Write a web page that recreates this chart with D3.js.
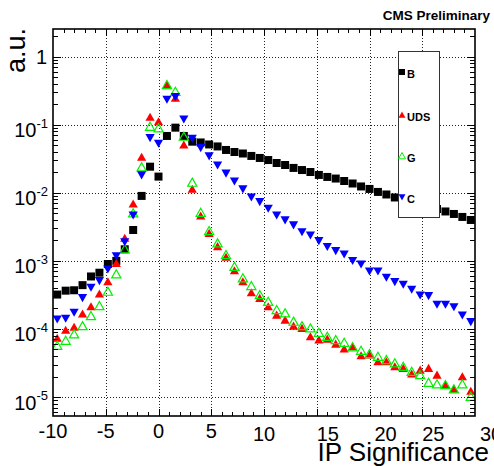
<!DOCTYPE html>
<html>
<head>
<meta charset="utf-8">
<script src="https://cdn.jsdelivr.net/npm/d3@7"></script>
<style>
  body { margin: 0; background: #fff; }
  svg { display: block; font-family: "Liberation Sans", Arial, Helvetica, sans-serif; }
</style>
</head>
<body>
<div id="chart"></div>
<script>
// bin centres of the IP significance histogram
var ipBins = [-9.6, -8.8, -8.0, -7.2, -6.4, -5.6, -4.8, -4.0, -3.2, -2.4,
  -1.6, -0.8, 0.0, 0.8, 1.6, 2.4, 3.2, 4.0, 4.8, 5.6,
  6.4, 7.2, 8.0, 8.8, 9.6, 10.4, 11.2, 12.0, 12.8, 13.6,
  14.4, 15.2, 16.0, 16.8, 17.6, 18.4, 19.2, 20.0, 20.8, 21.6,
  22.4, 23.2, 24.0, 24.8, 25.6, 26.4, 27.2, 28.0, 28.8, 29.6];

// B jets
var bValues = [3.2e-4, 3.65e-4, 3.7e-4, 4.4e-4, 5.9e-4, 6.7e-4, 9.0e-4, 1.0e-3, 1.48e-3, 2.84e-3,
  9.0e-3, 0.0242, 0.0173, 0.0684, 0.0906, 0.0684, 0.0564, 0.0549, 0.0513, 0.048,
  0.0426, 0.0398, 0.0378, 0.0348, 0.0325, 0.0303, 0.0274, 0.0256, 0.0232, 0.0216,
  0.0202, 0.0183, 0.0171, 0.0162, 0.0149, 0.0137, 0.0124, 0.0114, 0.0103, 0.00945,
  0.00854, 0.00785, 0.00733, 0.00685, 0.0063, 0.00578, 0.00532, 0.00489, 0.00442, 0.00399];

// light (UDS) jets
var udsValues = [7.3e-5, 9.6e-5, 1.06e-4, 1.66e-4, 2.12e-4, 3.26e-4, 4.94e-4, 9.2e-4, 2.15e-3, 6.85e-3,
  0.0333, 0.1288, 0.111, 0.384, 0.245, 0.0504, 0.01127, 0.00456, 0.00254, 0.00162,
  0.00113, 7.18e-4, 4.94e-4, 3.41e-4, 2.82e-4, 2.12e-4, 1.60e-4, 1.35e-4, 1.10e-4, 1.02e-4,
  7.7e-5, 6.9e-5, 7.1e-5, 6.0e-5, 5.07e-5, 5.48e-5, 4.04e-5, 4.14e-5, 3.3e-5, 3.3e-5,
  2.79e-5, 2.64e-5, 2.18e-5, 2.49e-5, 2.64e-5, 2.10e-5, 1.50e-5, 1.30e-5, 1.99e-5, 1.22e-5];

// gluon jets
var gValues = [5.67e-5, 6.72e-5, 8.34e-5, 1.10e-4, 1.55e-4, 2.17e-4, 3.53e-4, 6.35e-4, 1.48e-3, 5.0e-3,
  0.0237, 0.0936, 0.0887, 0.384, 0.306, 0.0668, 0.0141, 0.0051, 0.00275, 0.00181,
  0.00122, 8.2e-4, 5.55e-4, 4.28e-4, 3.15e-4, 2.51e-4, 1.90e-4, 1.70e-4, 1.28e-4, 1.10e-4,
  1.02e-4, 8.8e-5, 7.69e-5, 6.87e-5, 6.28e-5, 5.37e-5, 4.79e-5, 4.28e-5, 3.91e-5, 3.50e-5,
  3.13e-5, 2.79e-5, 2.35e-5, 2.10e-5, 1.62e-5, 1.54e-5, 1.50e-5, 1.30e-5, 1.54e-5, 1.01e-5];

// charm jets
var cValues = [1.40e-4, 1.43e-4, 1.76e-4, 2.88e-4, 4.09e-4, 5.12e-4, 7.6e-4, 1.19e-3, 1.91e-3, 4.72e-3,
  0.0183, 0.0646, 0.0534, 0.237, 0.258, 0.1215, 0.0632, 0.046, 0.0348, 0.0256,
  0.0194, 0.0149, 0.0114, 0.00868, 0.00741, 0.00593, 0.00472, 0.00399, 0.00337, 0.00268,
  0.0024, 0.00198, 0.00162, 0.00141, 0.00126, 0.00101, 9.0e-4, 7.1e-4, 7.1e-4, 5.74e-4,
  4.94e-4, 4.53e-4, 3.82e-4, 3.15e-4, 3.08e-4, 2.30e-4, 2.30e-4, 2.12e-4, 1.60e-4, 1.28e-4];

var xTickLabels = [-10, -5, 0, 5, 10, 15, 20, 25, 30];
var yTickExps = [0, -1, -2, -3, -4, -5];
var legendNames = ["B", "UDS", "G", "C"];

var width = 494, height = 466;
var padL = 53, padR = 475, padT = 29, padB = 416;

var svg = d3.select("#chart").append("svg")
  .attr("width", width)
  .attr("height", height);

var x = d3.scaleLinear().domain([-10, 30]).range([padL, padR]);
var y = d3.scaleLog().domain([5.26e-6, 2.55]).range([padB, padT]);

// dotted grid
var grid = svg.append("g").attr("stroke", "#222").attr("stroke-width", 1)
  .attr("stroke-dasharray", "1,2").attr("shape-rendering", "crispEdges");
grid.selectAll(".gx").data(xTickLabels.filter(function (d) { return d > -10 && d < 30; }))
  .enter().append("line")
  .attr("x1", function (d) { return Math.round(x(d)) + 0.5; })
  .attr("x2", function (d) { return Math.round(x(d)) + 0.5; })
  .attr("y1", padT).attr("y2", padB);
grid.selectAll(".gy").data(yTickExps)
  .enter().append("line")
  .attr("x1", padL).attr("x2", padR)
  .attr("y1", function (d) { return Math.round(y(Math.pow(10, d))) + 0.5; })
  .attr("y2", function (d) { return Math.round(y(Math.pow(10, d))) + 0.5; });

// markers
var triUp = "M0,-4.5L4.6,3.6L-4.6,3.6Z";
var triDown = "M-4.6,-3.6L4.6,-3.6L0,4.5Z";
var square = "M-4,-4H4V4H-4Z";

svg.append("clipPath").attr("id", "plotclip").append("rect")
  .attr("x", padL).attr("y", padT).attr("width", padR - padL).attr("height", padB - padT);

var plot = svg.append("g").attr("clip-path", "url(#plotclip)");

function drawSeries(values, path, fill, stroke) {
  plot.append("g").selectAll("path")
    .data(values)
    .enter()
    .append("path")
    .attr("transform", function (d, i) { return "translate(" + x(ipBins[i]) + "," + y(d) + ")"; })
    .attr("d", path)
    .attr("fill", fill)
    .attr("stroke", stroke)
    .attr("stroke-width", 1.2);
}

drawSeries(bValues, square, "#000", "none");
drawSeries(udsValues, triUp, "#ff0000", "none");
drawSeries(gValues, triUp, "none", "#00f000");
drawSeries(cValues, triDown, "#0000ff", "none");

// legend
var legend = svg.append("g");
legend.append("rect")
  .attr("x", 398.5).attr("y", 51.5).attr("width", 41).attr("height", 166)
  .attr("fill", "#fff").attr("stroke", "#333").attr("stroke-width", 1);
var legendY = [72, 115, 156, 197];
var legendMarks = [
  { d: "M-3,-3H3V3H-3Z", fill: "#000", stroke: "none" },
  { d: "M0,-3.5L3.5,2.8L-3.5,2.8Z", fill: "#ff0000", stroke: "none" },
  { d: "M0,-3.5L3.5,2.8L-3.5,2.8Z", fill: "none", stroke: "#00f000" },
  { d: "M-3.5,-2.8L3.5,-2.8L0,3.5Z", fill: "#0000ff", stroke: "none" }
];
legendNames.forEach(function (name, i) {
  legend.append("path")
    .attr("transform", "translate(402," + legendY[i] + ")")
    .attr("d", legendMarks[i].d)
    .attr("fill", legendMarks[i].fill)
    .attr("stroke", legendMarks[i].stroke)
    .attr("stroke-width", 1);
  legend.append("text")
    .attr("x", 407).attr("y", legendY[i] + 5.5)
    .attr("font-size", 11).attr("font-weight", "bold")
    .text(name);
});

// ticks
var xMinor = d3.range(-9, 30).filter(function (d) { return d % 5 !== 0; });
var xMajor = xTickLabels.filter(function (d) { return d > -10 && d < 30; });
var yMinor = [], yMajor = [];
for (var e = -6; e <= 0; e++) {
  for (var k = 1; k <= 9; k++) {
    var v = k * Math.pow(10, e);
    if (v < 5.26e-6 || v > 2.55) continue;
    if (k === 1) yMajor.push(v); else yMinor.push(v);
  }
}

function addAxis(axis, transform) {
  svg.append("g").attr("transform", transform)
    .attr("shape-rendering", "crispEdges")
    .call(axis)
    .call(function (g) { g.select(".domain").remove(); g.selectAll("text").remove(); })
    .selectAll("line").attr("stroke", "#000");
}
addAxis(d3.axisBottom(x).tickValues(xMinor).tickSize(-4), "translate(0," + padB + ")");
addAxis(d3.axisBottom(x).tickValues(xMajor).tickSize(-7), "translate(0," + padB + ")");
addAxis(d3.axisTop(x).tickValues(xMinor).tickSize(-4), "translate(0," + padT + ")");
addAxis(d3.axisTop(x).tickValues(xMajor).tickSize(-7), "translate(0," + padT + ")");
addAxis(d3.axisLeft(y).tickValues(yMinor).tickSize(-5), "translate(" + padL + ",0)");
addAxis(d3.axisLeft(y).tickValues(yMajor).tickSize(-8), "translate(" + padL + ",0)");
addAxis(d3.axisRight(y).tickValues(yMinor).tickSize(-5), "translate(" + padR + ",0)");
addAxis(d3.axisRight(y).tickValues(yMajor).tickSize(-8), "translate(" + padR + ",0)");

// frame
svg.append("rect")
  .attr("x", padL).attr("y", padT).attr("width", padR - padL).attr("height", padB - padT)
  .attr("fill", "none").attr("stroke", "#000").attr("stroke-width", 1.6);

// x tick labels (the right-hand ones sit a little off their ticks in the original)
var xLabelShift = { 15: 11, 20: 16, 25: 11, 30: 16 };
svg.append("g").selectAll("text")
  .data(xTickLabels)
  .enter().append("text")
  .attr("x", function (d) { return x(d) + (xLabelShift[d] || 0); })
  .attr("y", function (d) { return d >= 10 ? 440.5 : 438; })
  .attr("text-anchor", "middle")
  .attr("font-size", 20)
  .text(function (d) { return d; });

// y tick labels
var yLabels = svg.append("g");
yTickExps.forEach(function (ex) {
  var ty = y(Math.pow(10, ex));
  if (ex === 0) {
    yLabels.append("text").attr("x", 47).attr("y", ty + 7)
      .attr("text-anchor", "end").attr("font-size", 20).text("1");
  } else {
    var t = yLabels.append("text").attr("x", 48).attr("y", ty + 12.5)
      .attr("text-anchor", "end").attr("font-size", 20);
    t.append("tspan").text("10");
    t.append("tspan").attr("font-size", 13).attr("dy", -9.5).text("-" + (-ex));
  }
});

// axis titles
svg.append("text")
  .attr("transform", "translate(25,28) rotate(-90)")
  .attr("text-anchor", "end")
  .attr("font-size", 27)
  .text("a.u.");

svg.append("text")
  .attr("x", 489).attr("y", 461)
  .attr("text-anchor", "end")
  .attr("font-size", 26)
  .text("IP Significance");

svg.append("text")
  .attr("x", 490).attr("y", 20)
  .attr("text-anchor", "end")
  .attr("font-size", 13.5)
  .attr("font-weight", "bold")
  .text("CMS Preliminary");
</script>
</body>
</html>
